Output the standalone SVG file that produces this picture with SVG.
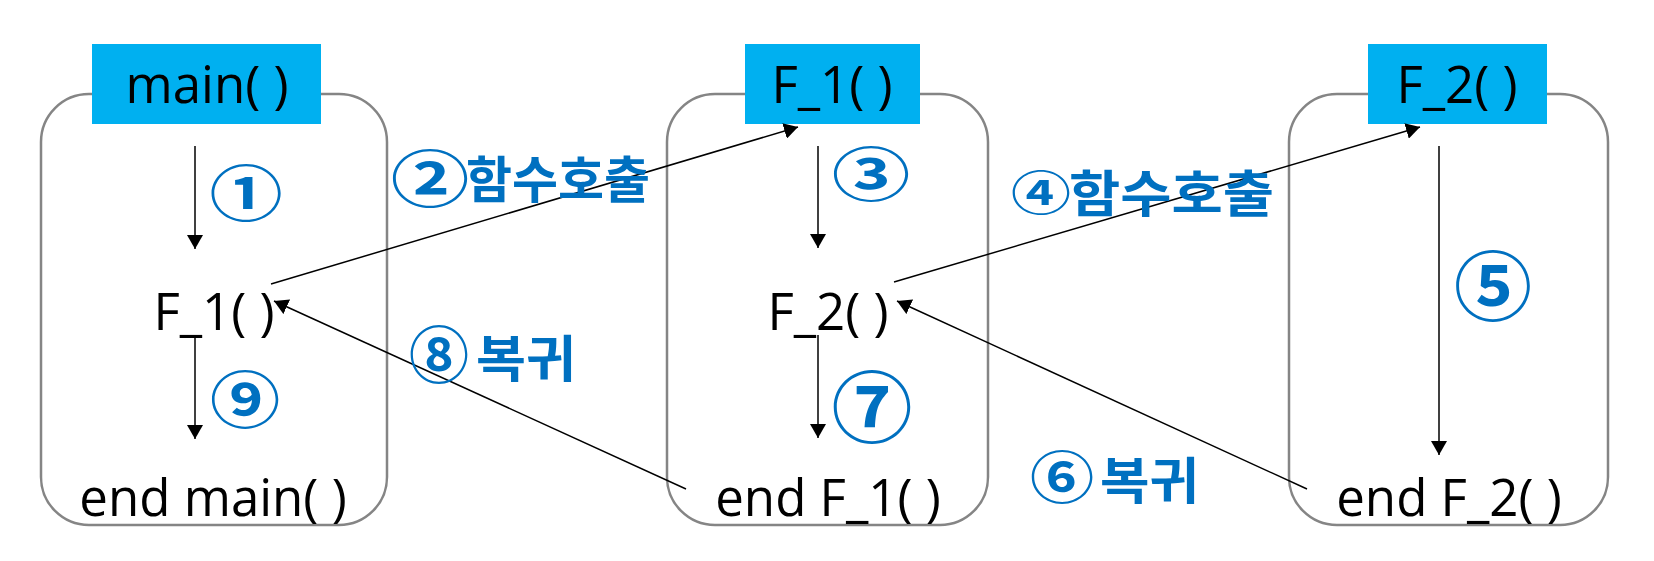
<svg xmlns="http://www.w3.org/2000/svg" width="1654" height="561" viewBox="0 0 1654 561">
<defs>
<marker id="ah" viewBox="0 0 14 16" refX="14" refY="8" markerWidth="14" markerHeight="16" markerUnits="userSpaceOnUse" orient="auto">
<path d="M0,0 L14,8 L0,16 z" fill="#000"/>
</marker>
<style>
.box{fill:#fff;stroke:#858585;stroke-width:2.5}
.hdr{fill:#00B0F0}
.t{font-family:"Open Sans","Noto Sans",sans-serif;font-size:51px;fill:#000;text-anchor:middle}
.c{font-family:"Noto Sans CJK KR",sans-serif;font-weight:bold;font-size:60px;fill:#0070C0;text-anchor:middle;dominant-baseline:central}
.k{font-family:"Noto Sans CJK KR",sans-serif;font-weight:bold;font-size:50px;fill:#0070C0;dominant-baseline:central}
.ln{stroke:#000;stroke-width:1.5;fill:none;marker-end:url(#ah)}
</style>
</defs>
<rect width="1654" height="561" fill="#fff"/>
<g id="main">
<rect class="box" x="41" y="94" width="346" height="431" rx="48"/>
<rect class="hdr" x="92" y="44" width="229" height="80"/>
<text class="t" x="207" y="103">main( )</text>
<text class="t" x="214" y="330">F_1( )</text>
<text class="t" x="213" y="516">end main( )</text>
</g>
<g id="f1">
<rect class="box" x="667" y="94" width="321" height="431" rx="48"/>
<rect class="hdr" x="745" y="44" width="175" height="80"/>
<text class="t" x="832" y="103">F_1( )</text>
<text class="t" x="828" y="330">F_2( )</text>
<text class="t" x="828" y="516">end F_1( )</text>
</g>
<g id="f2">
<rect class="box" x="1289" y="94" width="319" height="431" rx="48"/>
<rect class="hdr" x="1368" y="44" width="179" height="80"/>
<text class="t" x="1457" y="103">F_2( )</text>
<text class="t" x="1449" y="516">end F_2( )</text>
</g>
<g id="connectors">
<line class="ln" x1="195" y1="146" x2="195" y2="249"/>
<line class="ln" x1="195" y1="336" x2="195" y2="439"/>
<line class="ln" x1="818" y1="146" x2="818" y2="248"/>
<line class="ln" x1="818" y1="335" x2="818" y2="438"/>
<line class="ln" x1="1439" y1="146" x2="1439" y2="455"/>
<line class="ln" x1="271" y1="284" x2="798" y2="127"/>
<line class="ln" x1="686" y1="489" x2="274" y2="301"/>
<line class="ln" x1="894" y1="282" x2="1420" y2="127"/>
<line class="ln" x1="1307" y1="489" x2="897" y2="301"/>
</g>
<g id="labels">
<text class="c" transform="translate(246,190) scale(1.22,1)">①</text>
<text class="c" transform="translate(430,175) scale(1.31,1.02)">②</text>
<text class="k" x="466" y="176" textLength="184" lengthAdjust="spacingAndGlyphs">함수호출</text>
<text class="c" transform="translate(871,171) scale(1.31,0.96)">③</text>
<text class="c" transform="translate(1041,190) scale(1,0.78)">④</text>
<text class="k" x="1069" y="190" textLength="205" lengthAdjust="spacingAndGlyphs">함수호출</text>
<text class="c" transform="translate(1493,282) scale(1.3,1.27)">⑤</text>
<text class="c" transform="translate(1062,473) scale(1.07,0.93)">⑥</text>
<text class="k" x="1100" y="477" textLength="99" lengthAdjust="spacingAndGlyphs">복귀</text>
<text class="c" transform="translate(872,403) scale(1.35,1.3)">⑦</text>
<text class="c" transform="translate(439,351) scale(1,1.02)">⑧</text>
<text class="k" x="476" y="355" textLength="100" lengthAdjust="spacingAndGlyphs">복귀</text>
<text class="c" transform="translate(245,397) scale(1.17,1.02)">⑨</text>
</g>
</svg>
